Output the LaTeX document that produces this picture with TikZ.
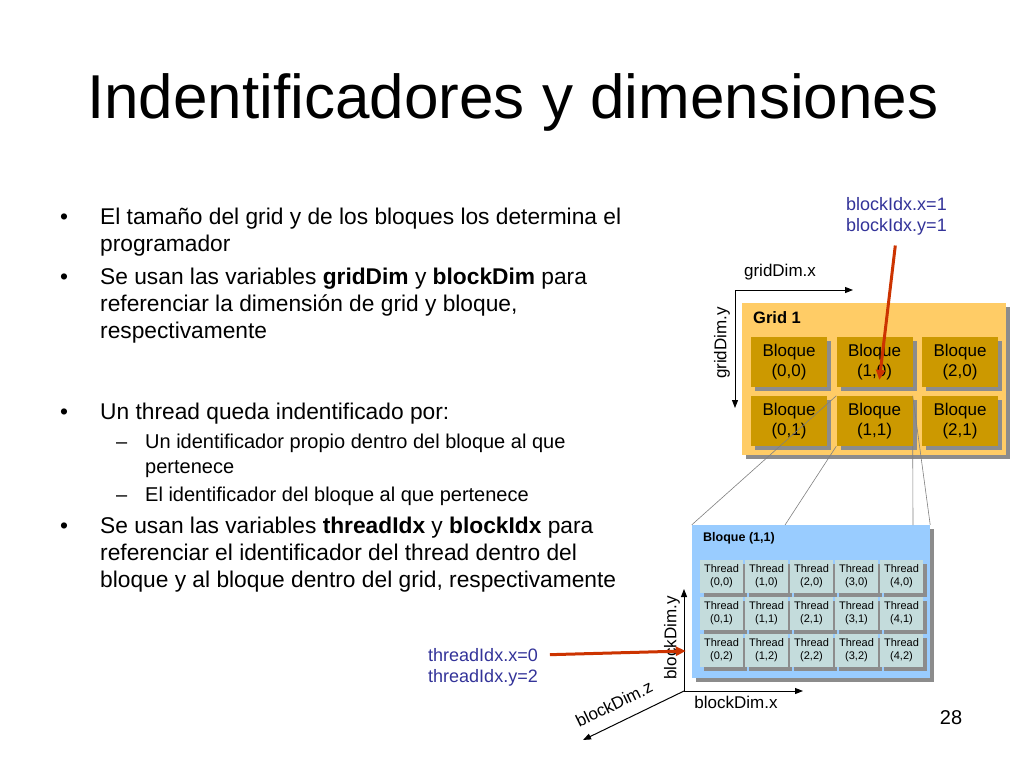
\documentclass[tikz,border=0pt]{standalone}
\usepackage{fontspec}
\setmainfont{Liberation Sans}
\usetikzlibrary{arrows.meta,shadows}

\definecolor{gridfill}{HTML}{FFCC66}
\definecolor{blockfill}{HTML}{CC9900}
\definecolor{detailfill}{HTML}{99CCFF}
\definecolor{threadfill}{HTML}{C4DCDC}
\definecolor{shadowgray}{HTML}{8C8C8C}
\definecolor{linkgray}{HTML}{808080}
\definecolor{idblue}{HTML}{333399}
\definecolor{idred}{HTML}{CC3300}

\tikzset{
  box/.style={rectangle, inner sep=0pt, align=center,
    drop shadow={shadow xshift=4pt, shadow yshift=-4pt, fill=shadowgray, opacity=1}},
  gridbox/.style={box, fill=gridfill, minimum width=264pt, minimum height=152pt},
  blockbox/.style={box, fill=blockfill, minimum width=76pt, minimum height=50pt,
    font=\fontsize{17}{20}\selectfont},
  detailbox/.style={box, fill=detailfill, minimum width=238pt, minimum height=153pt},
  threadbox/.style={box, fill=threadfill, minimum width=43pt, minimum height=33pt,
    font=\fontsize{11}{13}\selectfont},
  body/.style={anchor=base west, align=left, inner sep=0pt, font=\fontsize{22.75}{27}\selectfont},
  subbody/.style={anchor=base west, align=left, inner sep=0pt, font=\fontsize{20}{25}\selectfont},
  axlabel/.style={inner sep=0pt, font=\fontsize{17}{20}\selectfont},
  idlabel/.style={anchor=west, inner sep=0pt, text=idblue, font=\fontsize{18}{22}\selectfont},
  axis/.style={line width=1pt, -{Triangle[length=8pt,width=6pt]}},
  link/.style={linkgray, line width=0.6pt},
  idarrow/.style={idred, line width=3pt, -{Triangle[length=10pt,width=9pt]}}
}

\begin{document}
\begin{tikzpicture}[x=1pt,y=-1pt]
\useasboundingbox[fill=white] (0,0) rectangle (1024,768);

\node[anchor=base west, inner sep=0pt, font=\fontsize{62}{70}\selectfont] (title) at (87,118) {Indentificadores y dimensiones};

\node[body] (d1) at (60,224) {\textbullet};
\node[body] (p1) at (100,251) {El tamaño del grid y de los bloques los determina el\\programador};
\node[body] (d2) at (60,284) {\textbullet};
\node[body] (p2) at (100,338) {Se usan las variables \textbf{gridDim} y \textbf{blockDim} para\\referenciar la dimensión de grid y bloque,\\respectivamente};
\node[body] (d3) at (60,419) {\textbullet};
\node[body] (p3) at (100,419) {Un thread queda indentificado por:};
\node[subbody] (s1) at (116,448) {–};
\node[subbody] (q1) at (145,473) {Un identificador propio dentro del bloque al que\\pertenece};
\node[subbody] (s2) at (116,501) {–};
\node[subbody] (q2) at (145,501) {El identificador del bloque al que pertenece};
\node[body] (d4) at (60,533) {\textbullet};
\node[body] (p4) at (100,587) {Se usan las variables \textbf{threadIdx} y \textbf{blockIdx} para\\referenciar el identificador del thread dentro del\\bloque y al bloque dentro del grid, respectivamente};

\node[gridbox] (grid) at (874,379) {};
\node[anchor=west, inner sep=0pt, font=\bfseries\fontsize{16.5}{20}\selectfont] (gname) at (753,318) {Grid 1};
\foreach \i in {0,1,2}
  \foreach \j in {0,1}
    \node[blockbox] (b\i\j) at (789+85.5*\i,362+59*\j) {Bloque\\(\i,\j)};

\coordinate (go) at (735,290);
\coordinate (gx) at (853,290);
\coordinate (gy) at (735,408);
\draw[axis] (go) -- (gx);
\draw[axis] (go) -- (gy);
\node[axlabel] (lgx) at (780,272) {gridDim.x};
\node[axlabel, rotate=90] (lgy) at (722,343) {gridDim.y};

\node[detailbox] (det) at (811,601.5) {};
\node[anchor=west, inner sep=0pt, font=\bfseries\fontsize{12.5}{15}\selectfont] (dname) at (703,538) {Bloque (1,1)};
\foreach \i in {0,...,4}
  \foreach \j in {0,1,2}
    \node[threadbox] (t\i\j) at (721.5+45*\i,576+37*\j) {Thread\\(\i,\j)};

\coordinate (c1) at (785,525);
\coordinate (c2) at (913,525);
\draw[link] (b11.north west) -- (det.north west);
\draw[link] (b11.south west) -- (c1);
\draw[link] (b11.north east) -- (det.north east);
\draw[link] (b11.south east) -- (c2);

\coordinate (bo) at (684,691);
\coordinate (bx) at (803,691);
\coordinate (by) at (684,589);
\coordinate (bz) at (583,740);
\draw[axis] (bo) -- (bx);
\draw[axis] (bo) -- (by);
\draw[axis] (bo) -- (bz);
\node[axlabel] (lbx) at (736,702) {blockDim.x};
\node[axlabel, rotate=90] (lby) at (672,638) {blockDim.y};
\node[axlabel, rotate=26] (lbz) at (614,704) {blockDim.z};

\node[idlabel] (bix1) at (846,204) {blockIdx.x=1};
\node[idlabel] (bix2) at (846,227) {blockIdx.y=1};
\node[idlabel] (tix1) at (428,655) {threadIdx.x=0};
\node[idlabel] (tix2) at (428,678) {threadIdx.y=2};
\draw[idarrow, shorten <=10pt, shorten >=16pt] (bix2.south) -- (b11);
\draw[idarrow, shorten <=12pt, shorten >=14pt] (tix1.east) -- (t02);

\node[inner sep=0pt, font=\fontsize{20}{24}\selectfont] (page) at (951,718) {28};
\end{tikzpicture}
\end{document}
